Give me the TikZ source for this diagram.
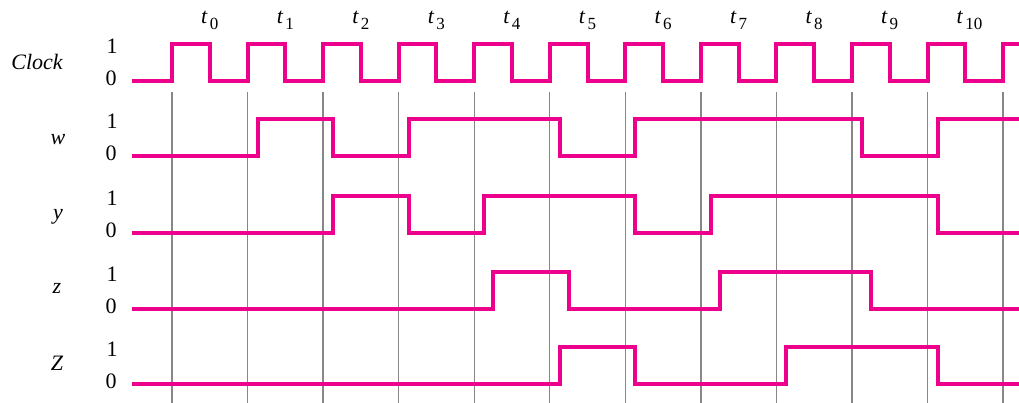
\documentclass[tikz,border=0pt]{standalone}
\usepackage{fontspec}
\setmainfont{Liberation Serif}
\definecolor{sigpink}{RGB}{236,0,140}
\definecolor{gridgray}{RGB}{135,135,135}
\begin{document}
\begin{tikzpicture}[x=1pt,y=-1pt,
  sig/.style={draw=sigpink,line width=4pt,line join=miter,line cap=butt},
  gridline/.style={draw=gridgray,line width=1.4pt},
  lbl/.style={inner sep=0pt,anchor=base,font=\fontsize{22}{26}\selectfont},
  namelbl/.style={lbl,font=\fontsize{22}{26}\selectfont\itshape},
  tlbl/.style={inner sep=0pt,anchor=base west,font=\fontsize{22}{26}\selectfont}]
\useasboundingbox (0,0) rectangle (1019,403);
\def\P{75.55}
% grid lines
\foreach \k in {0,...,11}{
  \draw[gridline] ({172+\P*\k},92) -- ({172+\P*\k},403);
}
% time labels
\foreach \k in {0,...,10}{
  \node[tlbl] (t\k) at ({172+\P*\k+29},24) {\textit{t}\kern2pt\raisebox{-6pt}{\fontsize{17}{17}\selectfont\k}};
}
% signal names
\node[namelbl] (nClock) at (37,70) {Clock};
\node[namelbl] (nw) at (58,145) {w};
\node[namelbl] (ny) at (58,220) {y};
\node[namelbl] (nz) at (57,293) {z};
\node[namelbl] (nZ) at (57,370) {Z};
% level labels
\foreach \r/\lo in {0/81,1/156.5,2/233,3/309,4/384}{
  \node[lbl] (one\r) at (112,{\lo-37+9.5}) {1};
  \node[lbl] (zero\r) at (111,{\lo+4.5}) {0};
}
% clock
\draw[sig] (132,81) foreach \k in {0,...,10} {
  -- ({172+\P*\k},81) -- ({172+\P*\k},44) -- ({172+\P*\k+37.8},44) -- ({172+\P*\k+37.8},81) }
  -- (1003.05,81) -- (1003.05,44) -- (1019,44);
% w
\draw[sig] (132,156.5) -| (257.5,119.5) -| (333.1,156.5) -| (408.6,119.5) -| (559.7,156.5)
  -| (635.3,119.5) -| (862,156.5) -| (937.5,119.5) -- (1019,119.5);
% y
\draw[sig] (132,233) -| (333.1,196) -| (408.6,233) -| (484.2,196) -| (635.3,233)
  -| (710.8,196) -| (937.5,233) -- (1019,233);
% z
\draw[sig] (132,309) -| (493.2,272) -| (568.7,309) -| (719.8,272) -| (871,309) -- (1019,309);
% Z
\draw[sig] (132,384) -| (559.7,347) -| (635.3,384) -| (786.4,347) -| (937.5,384) -- (1019,384);
\end{tikzpicture}
\end{document}
